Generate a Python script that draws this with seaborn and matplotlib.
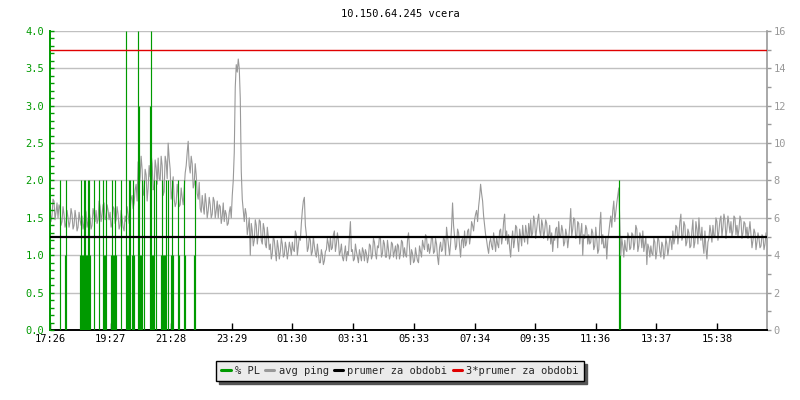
import numpy as np
import pandas as pd
import matplotlib
matplotlib.use("Agg")
import matplotlib.pyplot as plt
import seaborn as sns
from matplotlib.lines import Line2D
from matplotlib.ticker import MultipleLocator, FormatStrFormatter

# ---------------- data ----------------
title = "10.150.64.245 vcera"
tick_minutes = [0, 121, 242, 363, 484, 605, 727, 848, 969, 1090, 1211, 1332]
tick_labels = ["17:26", "19:27", "21:28", "23:29", "01:30", "03:31",
               "05:33", "07:34", "09:35", "11:36", "13:37", "15:38"]
x_end = 1432          # minutes shown
ping_step = 4         # minutes between samples of ping_ms

# avg ping [ms] at minutes 0, 4, 8, ...
ping_ms = [
    6.6, 6.1, 6.9, 6.3, 6.0, 6.5, 5.8, 6.2, 5.7, 6.0,
    5.8, 6.2, 5.6, 6.0, 5.5, 5.9, 6.1, 5.7, 6.3, 5.8,
    6.0, 5.6, 6.2, 6.4, 5.9, 6.6, 6.2, 6.8, 6.0, 6.4,
    6.3, 5.7, 6.5, 5.9, 6.2, 5.6, 6.0, 5.3, 5.8, 6.2,
    6.4, 7.2, 6.8, 7.8, 9.0, 8.2, 8.6, 7.4, 8.3, 7.6,
    8.2, 8.9, 7.6, 8.7, 9.2, 8.0, 8.8, 7.4, 9.0, 10.0,
    8.6, 7.4, 7.0, 6.8, 7.3, 6.7, 7.1, 7.6, 8.8, 10.1,
    8.4, 8.9, 7.8, 8.3, 7.0, 6.5, 7.2, 6.2, 6.8, 6.4,
    6.7, 6.2, 6.9, 6.4, 6.0, 6.6, 6.1, 5.8, 6.2, 5.7,
    6.6, 7.2, 9.5, 14.2, 14.5, 12.4, 7.0, 5.8, 6.2, 5.5,
    4.0, 5.3, 4.8, 5.6, 5.1, 5.8, 4.6, 5.4, 4.4, 5.0,
    4.6, 4.1, 4.8, 3.7, 4.4, 4.2, 4.6, 4.0, 4.4, 4.2,
    4.4, 4.7, 4.2, 5.1, 4.5, 4.8, 6.4, 7.1, 5.1, 4.4,
    4.8, 4.2, 4.5, 3.9, 4.1, 3.6, 4.0, 3.7, 4.3, 4.6,
    5.0, 4.4, 5.3, 4.6, 4.8, 4.2, 3.9, 4.1, 3.7, 4.0,
    5.8, 4.3, 3.8, 4.2, 3.6, 4.0, 4.4, 3.7, 4.1, 3.9,
    4.5, 4.0, 4.7, 3.8, 4.4, 4.9, 4.1, 4.6, 3.9, 4.3,
    4.0, 4.6, 4.2, 3.8, 4.5, 4.1, 4.7, 4.4, 3.9, 5.2,
    3.5, 4.1, 3.7, 4.0, 3.6, 4.2, 4.8, 4.3, 5.0, 4.6,
    4.4, 4.9, 4.2, 4.6, 3.5, 4.7, 4.3, 4.8, 5.5, 4.5,
    4.6, 6.8, 5.0, 4.5, 5.2, 3.9, 4.9, 5.3, 4.7, 5.4,
    5.0, 5.6, 5.9, 6.4, 6.6, 7.8, 6.9, 5.6, 4.8, 4.1,
    4.9, 4.3, 4.7, 5.0, 4.4, 5.4, 5.0, 6.2, 5.3, 5.1,
    3.9, 5.3, 4.8, 5.5, 4.2, 5.0, 5.6, 4.7, 5.2, 5.7,
    5.9, 5.2, 5.8, 5.4, 6.2, 5.0, 5.6, 5.3, 5.7, 5.1,
    4.6, 4.2, 4.8, 5.5, 5.8, 5.0, 5.3, 4.7, 5.1, 4.9,
    6.5, 5.4, 5.9, 5.0, 5.7, 5.2, 4.0, 4.9, 5.4, 5.1,
    4.7, 5.2, 4.5, 4.9, 4.3, 6.3, 5.1, 4.4, 3.8, 5.2,
    6.1, 6.4, 5.8, 6.8, 7.6, 4.0, 4.5, 4.8, 4.2, 5.0,
    4.4, 5.1, 4.7, 5.4, 4.5, 5.0, 5.3, 4.6, 3.5, 4.4,
    4.5, 4.0, 4.7, 4.2, 4.8, 3.9, 4.5, 4.1, 4.6, 4.4,
    4.8, 5.3, 4.9, 5.5, 5.1, 6.2, 5.0, 5.6, 4.7, 5.2,
    4.5, 5.9, 4.7, 5.4, 6.0, 4.8, 4.6, 5.3, 3.8, 4.9,
    5.2, 5.6, 5.0, 5.8, 5.3, 6.1, 5.5, 5.9, 5.4, 5.7,
    5.8, 5.3, 6.0, 5.6, 5.4, 5.9, 5.2, 5.7, 5.5, 5.3,
    5.1, 4.8, 5.2, 4.7, 4.9, 4.5, 5.0, 4.6, 4.9,
]

# avg ping [ms] at the in-between minutes 2, 6, 10, ...
ping_ms_mid = [
    5.8, 7.0, 5.9, 6.8, 6.7, 5.6, 6.6, 5.5, 6.4, 5.5,
    6.5, 5.4, 6.4, 5.3, 6.3, 5.6, 5.4, 6.5, 5.5, 6.4,
    5.4, 6.5, 5.8, 5.7, 6.9, 5.8, 6.7, 5.9, 6.7, 5.9,
    5.5, 6.6, 5.7, 6.6, 5.4, 6.4, 5.5, 6.1, 6.6, 5.7,
    7.0, 6.5, 7.5, 6.9, 7.6, 9.3, 7.2, 8.6, 6.9, 8.8,
    9.4, 7.5, 9.1, 7.8, 8.1, 9.3, 7.2, 9.3, 8.1, 9.2,
    7.0, 8.2, 6.6, 7.8, 6.6, 7.6, 6.7, 8.4, 9.5, 8.8,
    9.3, 7.6, 8.9, 7.3, 7.9, 6.3, 6.6, 7.3, 6.0, 7.1,
    6.0, 7.1, 6.0, 6.9, 6.7, 5.7, 6.8, 6.4, 5.6, 6.3,
    6.0, 8.0, 13.0, 13.8, 14.0, 8.5, 6.4, 6.5, 5.1, 6.0,
    5.7, 4.5, 5.9, 4.6, 5.9, 4.8, 5.7, 4.6, 5.5, 4.3,
    3.8, 5.0, 4.2, 4.8, 3.8, 4.9, 3.9, 4.7, 3.8, 4.7,
    4.0, 4.3, 5.3, 4.0, 5.0, 5.7, 6.9, 5.6, 4.2, 5.0,
    4.0, 5.0, 4.1, 4.6, 3.6, 4.3, 3.5, 4.2, 4.9, 4.2,
    4.3, 5.1, 4.2, 5.2, 4.0, 4.6, 3.7, 4.5, 4.2, 5.0,
    4.2, 3.7, 4.6, 3.9, 4.3, 3.7, 4.2, 4.3, 3.6, 4.6,
    3.8, 4.9, 4.1, 4.5, 5.0, 3.9, 4.8, 3.9, 4.8, 3.8,
    4.7, 3.9, 4.5, 4.6, 3.8, 4.8, 3.9, 4.0, 4.8, 4.4,
    4.3, 3.6, 4.4, 3.7, 4.5, 3.9, 4.5, 5.1, 4.2, 4.1,
    5.0, 4.1, 4.9, 3.9, 4.4, 4.2, 5.0, 4.0, 5.0, 4.0,
    5.5, 5.6, 4.3, 5.4, 4.5, 4.8, 4.4, 4.5, 5.3, 4.6,
    5.8, 5.3, 6.2, 5.8, 7.1, 7.3, 6.1, 5.1, 4.4, 4.7,
    4.5, 5.2, 4.2, 4.6, 5.3, 4.6, 5.8, 4.8, 4.6, 4.4,
    4.8, 4.4, 5.6, 4.7, 5.4, 4.5, 5.0, 5.6, 4.6, 5.0,
    5.0, 6.1, 4.9, 5.9, 5.3, 5.9, 4.9, 5.9, 4.8, 5.6,
    5.2, 4.9, 5.4, 4.4, 5.0, 5.6, 4.5, 5.4, 4.4, 5.6,
    5.0, 6.0, 4.9, 5.8, 4.6, 5.7, 5.1, 5.6, 4.6, 4.6,
    5.4, 4.3, 5.5, 4.1, 5.6, 4.6, 4.4, 5.0, 4.8, 5.7,
    5.5, 6.9, 6.3, 7.2, 5.8, 4.9, 3.9, 4.3, 5.2, 4.3,
    5.2, 4.3, 5.6, 4.2, 5.2, 4.4, 4.2, 5.0, 4.6, 3.9,
    4.1, 4.9, 3.8, 5.0, 4.2, 4.7, 3.8, 4.9, 4.0, 5.0,
    4.3, 4.6, 5.6, 4.6, 5.8, 4.8, 5.8, 4.5, 5.4, 4.4,
    5.3, 4.4, 5.8, 4.6, 5.2, 5.5, 4.1, 4.4, 4.7, 5.6,
    4.7, 5.0, 6.0, 4.8, 5.9, 5.0, 6.2, 4.9, 6.1, 5.2,
    5.0, 6.1, 5.1, 5.0, 6.1, 4.9, 5.8, 5.0, 4.9, 5.8,
    4.4, 5.4, 4.3, 5.2, 4.4, 5.1, 4.3, 5.2,
]

pl_minutes = [20, 30, 32,
              60, 62, 64, 66, 68, 70, 72, 74, 76, 78, 80,
              88, 98, 106, 108, 110, 112,
              122, 124, 126, 128, 130, 132, 142,
              152, 154, 156, 158, 160, 164, 166, 168,
              176, 178, 180, 182, 184, 188,
              200, 202, 204, 206, 208, 212,
              222, 224, 226, 228, 230, 232, 236,
              242, 244, 246, 256, 258, 268, 270, 288, 290,
              1136, 1138]
pl_percent = [2, 1, 2,
              1, 2, 1, 1, 2, 2, 1, 1, 2, 2, 1,
              2, 2, 2, 1, 1, 2,
              1, 2, 1, 1, 2, 1, 2,
              4, 1, 1, 2, 2, 1, 2, 1,
              4, 3, 1, 1, 2, 2,
              3, 4, 1, 1, 2, 2,
              1, 2, 1, 1, 1, 2, 2,
              1, 2, 1, 2, 1, 2, 1, 1, 2,
              2, 1]

avg_ping = 5.0
avg3_ping = 15.0

series_names = ["% PL", "avg ping", "prumer za obdobi", "3*prumer za obdobi"]
series_colors = ["#009a00", "#999999", "#000000", "#e00000"]

# ---------------- style ----------------
sns.set_style("white")
plt.rcParams['font.family'] = ['DejaVu Sans Mono', 'DejaVu Sans']
FS = 7.5

fig = plt.figure(figsize=(8, 4), dpi=100)
ax = fig.add_axes([50 / 800, 70 / 400, 717 / 800, 299 / 400])
ax2 = ax.twinx()   # % PL (left scale)
ax3 = ax.twinx()   # average lines (ping scale)

# ping line
df_main = pd.DataFrame({"minute": np.arange(len(ping_ms)) * ping_step,
                        "ping": ping_ms})
df_mid = pd.DataFrame({"minute": np.arange(len(ping_ms_mid)) * ping_step + ping_step // 2,
                       "ping": ping_ms_mid})
df = pd.concat([df_main, df_mid]).sort_values("minute").reset_index(drop=True)
sns.lineplot(data=df, x="minute", y="ping", ax=ax, color=series_colors[1],
             linewidth=0.8, zorder=2, sort=True)
ax.set_xlim(0, x_end)
ax.set_ylim(0, 16)
ax.set_xlabel("")
ax.set_ylabel("")

# PL stems
ax2.vlines(pl_minutes, 0, pl_percent, color=series_colors[0], linewidth=0.85)
ax2.set_ylim(0, 4)
ax2.set_xlim(0, x_end)

# averages
ax3.axhline(avg_ping, color=series_colors[2], linewidth=1.6)
ax3.axhline(avg3_ping, color=series_colors[3], linewidth=1.0)
ax3.set_ylim(0, 16)
ax3.set_xlim(0, x_end)
ax3.set_yticks([])
for s in ax3.spines.values():
    s.set_visible(False)

# right axis (ping)
ax.yaxis.tick_right()
ax.yaxis.set_major_locator(MultipleLocator(2))
ax.yaxis.set_minor_locator(MultipleLocator(1))
ax.tick_params(axis='y', which='both', direction='out', length=3, width=1,
               color='#999999', labelcolor='#999999', labelsize=FS, pad=1.5,
               right=True, left=False)
ax.grid(axis='y', which='major', color='#c0c0c0', linewidth=1)
ax.grid(axis='x', visible=False)
ax.set_axisbelow(True)

# x axis
ax.set_xticks(tick_minutes)
ax.set_xticklabels(tick_labels)
ax.tick_params(axis='x', direction='in', length=5, width=1, color='black',
               labelcolor='black', labelsize=FS, pad=3, bottom=True)

# left axis (PL)
ax2.yaxis.tick_left()
ax2.yaxis.set_major_locator(MultipleLocator(0.5))
ax2.yaxis.set_minor_locator(MultipleLocator(0.1))
ax2.yaxis.set_major_formatter(FormatStrFormatter('%.1f'))
ax2.tick_params(axis='y', which='both', direction='in', length=3, width=1,
                color=series_colors[0], labelcolor=series_colors[0],
                labelsize=FS, pad=4, left=True, right=False)

# spines
ax.spines['top'].set_visible(False)
ax.spines['left'].set_visible(False)
ax.spines['right'].set_color('#999999')
ax.spines['right'].set_linewidth(1.2)
ax.spines['bottom'].set_color('black')
ax.spines['bottom'].set_linewidth(1.4)
ax2.spines['top'].set_visible(False)
ax2.spines['right'].set_visible(False)
ax2.spines['bottom'].set_visible(False)
ax2.spines['left'].set_color(series_colors[0])
ax2.spines['left'].set_linewidth(1.4)

# title
fig.text(0.5, 1 - 14 / 400, title, ha='center', va='center', fontsize=FS,
         color='black')

# legend
handles = [Line2D([], [], color=c, linewidth=2.2) for c in series_colors]
fig.legend(handles, series_names, loc='center',
           bbox_to_anchor=(400 / 800, 1 - 371 / 400), ncol=4, fontsize=FS,
           frameon=True, fancybox=False, edgecolor='black', facecolor='#ebebeb',
           framealpha=1, shadow={'color': '#555555', 'alpha': 1},
           handlelength=0.9, handletextpad=0.4, columnspacing=0.5,
           borderpad=0.5, borderaxespad=0)

fig.savefig("out.png", dpi=100)
